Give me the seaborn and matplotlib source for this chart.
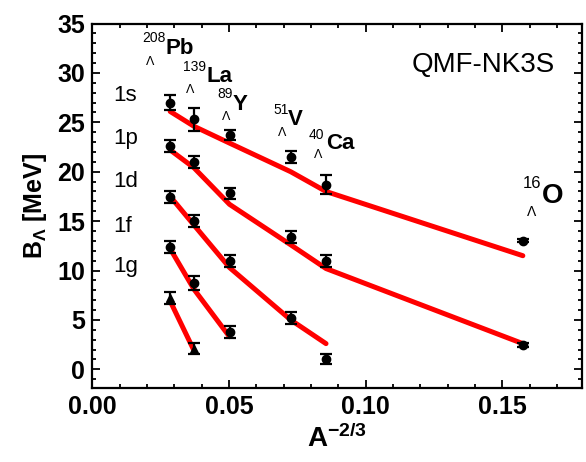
import numpy as np
import pandas as pd
import seaborn as sns
import matplotlib.pyplot as plt
from matplotlib.ticker import MultipleLocator

# A^(-2/3) for 208Pb, 139La, 89Y, 51V, 40Ca, 16O
x_nuc = [0.0285, 0.0372, 0.0502, 0.0726, 0.0855, 0.1575]
nuclei = ["Pb", "La", "Y", "V", "Ca", "O"]
mass = ["208", "139", "89", "51", "40", "16"]

# experimental B_Lambda [MeV] and errors per shell
exp_1s = [27.0, 25.3, 23.7, 21.5, 18.7, 13.0]
err_1s = [0.8, 1.2, 0.5, 0.6, 1.0, 0.15]
exp_1p = [22.6, 21.0, 17.8, 13.4, 11.0, 2.5]
err_1p = [0.6, 0.6, 0.6, 0.6, 0.6, 0.2]
exp_1d = [17.4, 15.0, 11.0, 5.2, 1.0]
err_1d = [0.6, 0.6, 0.6, 0.6, 0.5]
exp_1f = [12.4, 8.7, 3.8]
err_1f = [0.6, 0.7, 0.6]
exp_1g = [7.2, 2.1]
err_1g = [0.6, 0.6]

# QMF-NK3S calculation
th_1s = [26.1, 24.6, 22.9, 20.0, 18.0, 11.5]
th_1p = [22.2, 20.4, 16.7, 12.6, 10.2, 2.6]
th_1d = [17.5, 14.6, 10.3, 5.0, 2.6]
th_1f = [12.2, 8.1, 3.3]
th_1g = [6.9, 1.9]

shells = ["1s", "1p", "1d", "1f", "1g"]
exp_all = [exp_1s, exp_1p, exp_1d, exp_1f, exp_1g]
err_all = [err_1s, err_1p, err_1d, err_1f, err_1g]
th_all = [th_1s, th_1p, th_1d, th_1f, th_1g]

sns.set_style("ticks")
plt.rcParams['font.family'] = ['Liberation Sans', 'DejaVu Sans']
plt.rcParams['mathtext.fontset'] = 'custom'
plt.rcParams['mathtext.rm'] = 'Liberation Sans'
plt.rcParams['mathtext.bf'] = 'Liberation Sans:bold'
for k in ['text.color', 'axes.labelcolor', 'xtick.color', 'ytick.color', 'axes.edgecolor']:
    plt.rcParams[k] = 'black'

fig = plt.figure(figsize=(5.86, 4.62), dpi=100)
ax = fig.add_axes([0.1575, 0.160, 0.835, 0.789])

rows = []
for s, th in zip(shells, th_all):
    for xv, yv in zip(x_nuc, th):
        rows.append({"x": xv, "B": yv, "shell": s})
df_th = pd.DataFrame(rows)
sns.lineplot(data=df_th, x="x", y="B", units="shell", estimator=None,
             color="#ff0000", lw=3.6, ax=ax, zorder=2)

for s, ex, er in zip(shells, exp_all, err_all):
    n = len(ex)
    mk = "^" if s == "1g" else "o"
    ax.errorbar(x_nuc[:n], ex, yerr=er, fmt=mk, color="black", ms=6,
                capsize=4, elinewidth=1.6, capthick=1.6, zorder=3)

ax.set_xlim(0, 0.179)
ax.set_ylim(-1.9, 35)
ax.xaxis.set_minor_locator(MultipleLocator(0.01))
ax.yaxis.set_major_locator(MultipleLocator(5))
ax.yaxis.set_minor_locator(MultipleLocator(1))
ax.set_xticks([0, 0.05, 0.10, 0.15])
ax.set_xticklabels(["0.00", "0.05", "0.10", "0.15"])
ax.tick_params(which="both", direction="in", top=True, right=True, width=1.3)
ax.tick_params(which="major", length=6, labelsize=18, pad=5)
ax.tick_params(which="minor", length=3)
for lab in ax.get_xticklabels() + ax.get_yticklabels():
    lab.set_fontweight("bold")
for sp in ax.spines.values():
    sp.set_linewidth(1.6)

ax.set_xlabel(r"$\mathbf{A^{-2/3}}$", fontsize=20, labelpad=4)
ax.set_ylabel(r"$\mathbf{B_{\Lambda}}$ [MeV]", fontsize=18, fontweight="bold", labelpad=6)

# shell labels
shell_y = [27.7, 23.4, 19.0, 14.5, 10.4]
for s, yv in zip(shells, shell_y):
    ax.text(0.0075, yv, s, fontsize=16, va="center", ha="left")

# nucleus labels: (mass x, mass y, symbol x, symbol y, lambda x, lambda y)
lab_pos = [
    (0.0181, 33.55, 0.0268, 32.5, 0.0196, 31.15),
    (0.0330, 30.65, 0.0416, 29.6, 0.0341, 28.3),
    (0.0457, 27.9, 0.0515, 26.8, 0.0473, 25.5),
    (0.0662, 26.3, 0.0716, 25.25, 0.0678, 23.9),
    (0.0793, 23.7, 0.0854, 22.9, 0.0811, 21.7),
    (0.1573, 18.85, 0.1643, 17.55, 0.1590, 15.97),
]
for i, (m, el) in enumerate(zip(mass, nuclei)):
    mx, my, ex_, ey, lx, ly = lab_pos[i]
    big = el == "O"
    ax.text(mx, my, m, fontsize=12 if big else 10, va="center", ha="left")
    ax.text(ex_, ey, el, fontsize=20 if big else 16, fontweight="bold",
            va="center", ha="left")
    ax.text(lx, ly, "Λ", fontsize=10 if big else 9, va="center", ha="left")

ax.text(0.1167, 30.8, "QMF-NK3S", fontsize=20, va="center", ha="left")

fig.savefig("out.png", dpi=100)
